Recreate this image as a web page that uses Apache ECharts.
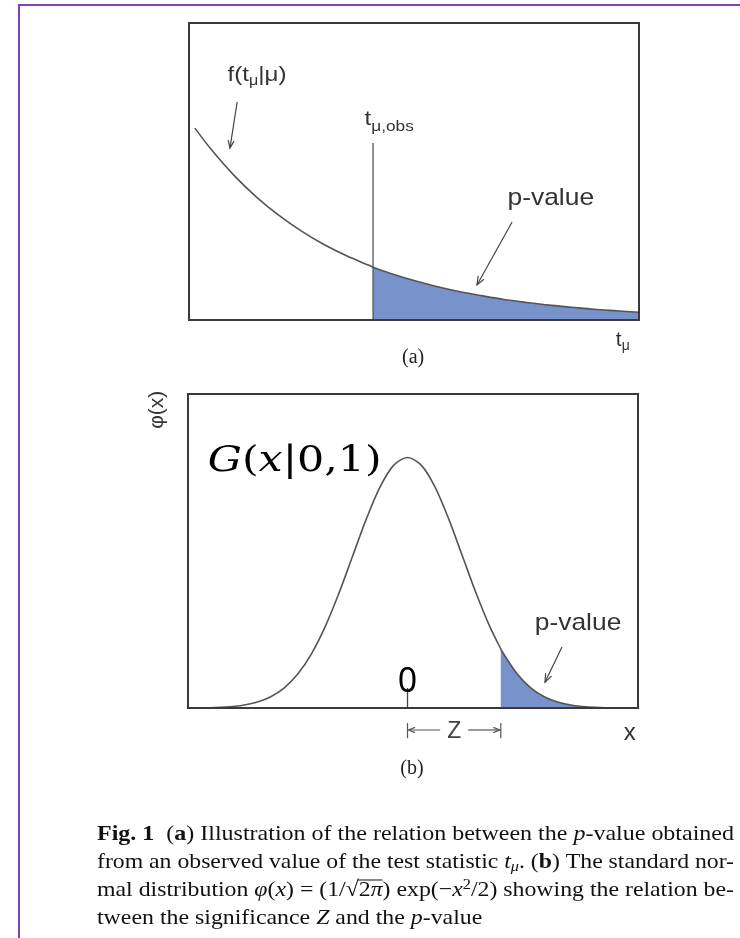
<!DOCTYPE html>
<html>
<head>
<meta charset="utf-8">
<script src="https://cdn.jsdelivr.net/npm/echarts@6/dist/echarts.min.js"></script>
<style>
  html, body { margin: 0; padding: 0; background: #ffffff; }
  #main { width: 740px; height: 938px; }
</style>
</head>
<body>
<div id="main"></div>
<script>
// ---- Panel (a): density f(t_mu | mu) of the test statistic ----
const tA = [0.13, 0.5, 1, 1.5, 2, 2.5, 3, 3.5, 4, 4.09, 4.5, 5, 5.5, 6, 6.5, 7, 7.5, 8, 8.5, 9, 9.5, 10];
const fA = [0.646, 0.573, 0.487, 0.414, 0.352, 0.299, 0.254, 0.216, 0.184, 0.178, 0.156, 0.133,
            0.113, 0.096, 0.082, 0.069, 0.059, 0.050, 0.043, 0.036, 0.031, 0.026];
const tObs = 4.09;           // observed value of the statistic
const tObsMarkerTop = 0.596; // height of the t_obs marker line
const tRange = [0, 10];
const fRange = [0, 1];

// ---- Panel (b): standard normal density phi(x) ----
const xB = [-4, -3.75, -3.5, -3.25, -3, -2.75, -2.5, -2.25, -2, -1.75, -1.5, -1.25, -1, -0.75, -0.5, -0.25,
            0, 0.25, 0.5, 0.75, 1, 1.25, 1.5, 1.7, 1.75, 2, 2.25, 2.5, 2.75, 3, 3.25, 3.5, 3.75, 4, 4.2];
const phiB = [0.0001, 0.0004, 0.0009, 0.0020, 0.0044, 0.0091, 0.0175, 0.0317, 0.0540, 0.0863, 0.1295, 0.1826,
              0.2420, 0.3011, 0.3521, 0.3867, 0.3989, 0.3867, 0.3521, 0.3011, 0.2420, 0.1826, 0.1295, 0.0940,
              0.0863, 0.0540, 0.0317, 0.0175, 0.0091, 0.0044, 0.0020, 0.0009, 0.0004, 0.0001, 0.0001];
const zSig = 1.7;            // significance Z
const xRange = [-4, 4.2];
const phiRange = [0, 0.5];

// ---- Caption ----
const captionLines = [
  [['Fig. 1', 'b'], ['  (', 'r'], ['a', 'b'], [') Illustration of the relation between the ', 'r'], ['p', 'i'], ['-value obtained', 'r']],
  [['from an observed value of the test statistic ', 'r'], ['t', 'i'], ['μ', 'isub'], ['. (', 'r'], ['b', 'b'], [') The standard nor-', 'r']],
  [['mal distribution ', 'r'], ['φ', 'i'], ['(', 'r'], ['x', 'i'], [') = (1/√', 'r'], ['2', 'r'], ['π', 'i'], [') exp(−', 'r'], ['x', 'i'], ['2', 'sup'], ['/2) showing the relation be-', 'r']],
  [['tween the significance ', 'r'], ['Z', 'i'], [' and the ', 'r'], ['p', 'i'], ['-value', 'r']]
];

const FILL = '#7892cc';
const CURVE = '#555555';
const INK = '#333333';
const SANS = '"Liberation Sans", Arial, sans-serif';
const SERIF = '"Liberation Serif", "Times New Roman", serif';
const MATH = '"DejaVu Serif", serif';

const chart = echarts.init(document.getElementById('main'), null, { renderer: 'canvas' });

const pairs = (xs, ys) => xs.map((x, i) => [x, ys[i]]);
const tail = (xs, ys, from) => pairs(xs, ys).filter(p => p[0] >= from - 1e-9);

const curveSeries = (axis, data, extra) => Object.assign({
  type: 'line', xAxisIndex: axis, yAxisIndex: axis, data: data,
  smooth: 0.3, showSymbol: false, silent: true
}, extra);

chart.setOption({
  backgroundColor: '#ffffff',
  animation: false,
  grid: [
    { left: 189, top: 23, width: 450, height: 297, show: false },
    { left: 188, top: 394, width: 450, height: 314, show: false }
  ],
  xAxis: [
    { gridIndex: 0, type: 'value', min: tRange[0], max: tRange[1], show: false },
    { gridIndex: 1, type: 'value', min: xRange[0], max: xRange[1], show: false }
  ],
  yAxis: [
    { gridIndex: 0, type: 'value', min: fRange[0], max: fRange[1], show: false },
    { gridIndex: 1, type: 'value', min: phiRange[0], max: phiRange[1], show: false }
  ],
  series: [
    // shaded p-value region (a)
    curveSeries(0, tail(tA, fA, tObs), { lineStyle: { width: 0 }, areaStyle: { color: FILL, opacity: 1 }, z: 2 }),
    // f(t|mu) curve
    curveSeries(0, pairs(tA, fA), { lineStyle: { color: CURVE, width: 1.6 }, z: 3 }),
    // t_obs marker
    curveSeries(0, [[tObs, 0], [tObs, tObsMarkerTop]], { smooth: false, lineStyle: { color: CURVE, width: 1.3 }, z: 3 }),
    // shaded p-value tail (b)
    curveSeries(1, tail(xB, phiB, zSig), { lineStyle: { width: 0 }, areaStyle: { color: FILL, opacity: 1 }, z: 2 }),
    // phi(x) curve
    curveSeries(1, pairs(xB, phiB), { lineStyle: { color: CURVE, width: 1.6 }, z: 3 }),
    // tick at x = 0
    curveSeries(1, [[0, 0], [0, 0.032]], { smooth: false, lineStyle: { color: '#444', width: 1.3 }, z: 3 })
  ]
});

// ---- annotations, anchored in data coordinates ----
const pA = (x, y) => chart.convertToPixel({ gridIndex: 0 }, [x, y]);
const pB = (x, y) => chart.convertToPixel({ gridIndex: 1 }, [x, y]);

const ctx = document.createElement('canvas').getContext('2d');
function segWidth(str, st) {
  ctx.font = (st.fontStyle || 'normal') + ' ' + (st.fontWeight || 'normal') + ' ' + st.fontSize + 'px ' + st.fontFamily;
  return ctx.measureText(str).width;
}

function arrow(p0, p1, head, color) {
  const ang = Math.atan2(p1[1] - p0[1], p1[0] - p0[0]);
  const a1 = ang + Math.PI - 0.38, a2 = ang + Math.PI + 0.38;
  return [
    { type: 'line', silent: true, z: 50, shape: { x1: p0[0], y1: p0[1], x2: p1[0], y2: p1[1] },
      style: { stroke: color, lineWidth: 1.2 } },
    { type: 'polyline', silent: true, z: 50,
      shape: { points: [[p1[0] + head * Math.cos(a1), p1[1] + head * Math.sin(a1)], p1,
                        [p1[0] + head * Math.cos(a2), p1[1] + head * Math.sin(a2)]] },
      style: { stroke: color, lineWidth: 1.2, fill: null } }
  ];
}

function text(pos, str, style, extra) {
  return Object.assign({ type: 'text', silent: true, z: 60, x: pos[0], y: pos[1],
    style: Object.assign({ text: str, fill: INK, align: 'center', verticalAlign: 'middle' }, style) }, extra || {});
}

function box(p0, p1) {
  return { type: 'rect', silent: true, z: 40,
    shape: { x: p0[0], y: p1[1], width: p1[0] - p0[0], height: p0[1] - p1[1] },
    style: { stroke: '#3a3a3a', lineWidth: 2, fill: null } };
}

const g = [];

// outer frame
g.push({ type: 'rect', silent: true, z: 70, shape: { x: 19, y: 5, width: 800, height: 1000 },
  style: { stroke: '#7d44b8', lineWidth: 2, fill: null } });

// plot frames
g.push(box(pA(tRange[0], fRange[0]), pA(tRange[1], fRange[1])));
g.push(box(pB(xRange[0], phiRange[0]), pB(xRange[1], phiRange[1])));

// (a) labels
const subRich = {
  m: { fontFamily: SANS, fontSize: 21, fill: INK },
  s: { fontFamily: SANS, fontSize: 14, fill: INK, padding: [12, 0, 0, 0] }
};
g.push(text(pA(1.51, 0.825), '{m|f(t}{s|μ}{m||μ)}', { rich: subRich }, { scaleX: 1.15 }));
g.push(...arrow(pA(1.07, 0.734), pA(0.91, 0.579), 8, '#444'));
g.push(text(pA(3.9, 0.675), '{m|t}{s|μ,obs}', {
  align: 'left',
  rich: { m: { fontFamily: SANS, fontSize: 21, fill: INK }, s: { fontFamily: SANS, fontSize: 15, fill: INK, padding: [14, 0, 0, 0] } }
}, { scaleX: 1.15 }));
g.push(text(pA(8.04, 0.411), 'p-value', { fontFamily: SANS, fontSize: 24 }, { scaleX: 1.1 }));
g.push(...arrow(pA(7.18, 0.33), pA(6.4, 0.118), 9, '#444'));
g.push(text(pA(9.64, -0.067), '{m|t}{s|μ}', { rich: subRich }));
g.push(text(pA(4.98, -0.128), '(a)', { fontFamily: SERIF, fontSize: 20, fill: '#222' }));

// (b) labels
const gStyles = {
  i: { fontFamily: MATH, fontStyle: 'italic', fontSize: 35, fill: '#000' },
  r: { fontFamily: MATH, fontSize: 35, fill: '#000' }
};
const gSegs = [['G', 'i'], ['(', 'r'], ['x', 'i'], ['|0,1)', 'r']];
const gW = gSegs.reduce((a, [s, k]) => a + segWidth(s, gStyles[k]), 0);
const gLeft = pB(-3.64, 0.392), gRight = pB(5.5, 0.392);
const gTarget = pB(-0.47, 0)[0] - gLeft[0];
g.push(text(gLeft, gSegs.map(([s, k]) => '{' + k + '|' + s + '}').join(''), { align: 'left', rich: gStyles },
  { scaleX: gTarget / gW }));
g.push(text(pB(0, 0.041), '0', { fontFamily: '"Noto Sans", sans-serif', fontSize: 34, fill: '#000' }));
g.push(text(pB(3.107, 0.135), 'p-value', { fontFamily: SANS, fontSize: 24 }, { scaleX: 1.1 }));
g.push(...arrow(pB(2.815, 0.097), pB(2.505, 0.041), 9, '#444'));
g.push(text(pB(4.05, -0.040), 'x', { fontFamily: SANS, fontSize: 24 }));
g.push(text(pB(0.08, -0.096), '(b)', { fontFamily: SERIF, fontSize: 20, fill: '#222' }));
g.push(text(pB(-4.56, 0.475), 'φ(x)', { fontFamily: SANS, fontSize: 21 }, { rotation: Math.PI / 2 }));

// Z bracket between 0 and Z
const zy = -0.035;
const zb0 = pB(0, -0.024), zb1 = pB(0, -0.048), zc0 = pB(zSig, -0.024), zc1 = pB(zSig, -0.048);
g.push({ type: 'line', silent: true, z: 50, shape: { x1: zb0[0], y1: zb0[1], x2: zb1[0], y2: zb1[1] }, style: { stroke: '#555', lineWidth: 1.2 } });
g.push({ type: 'line', silent: true, z: 50, shape: { x1: zc0[0], y1: zc0[1], x2: zc1[0], y2: zc1[1] }, style: { stroke: '#555', lineWidth: 1.2 } });
const zMid = pB(zSig / 2, zy);
g.push(...arrow([zMid[0] - 14, zMid[1]], [pB(0, zy)[0] + 1, zMid[1]], 7, '#555'));
g.push(...arrow([zMid[0] + 14, zMid[1]], [pB(zSig, zy)[0] - 1, zMid[1]], 7, '#555'));
g.push(text([zMid[0], zMid[1] + 2], 'Z', { fontFamily: SANS, fontSize: 23, fill: '#444' }));

// caption, justified between two margins
const capLeft = 97, capRight = 734, capSize = 22;
const capY = [834, 862, 890, 918];
const capStyles = {
  r: { fontFamily: SERIF, fontSize: capSize, fill: '#111' },
  b: { fontFamily: SERIF, fontSize: capSize, fontWeight: 'bold', fill: '#111' },
  i: { fontFamily: SERIF, fontSize: capSize, fontStyle: 'italic', fill: '#111' },
  isub: { fontFamily: SERIF, fontSize: 15, fontStyle: 'italic', fill: '#111', padding: [10, 0, 0, 0] },
  sup: { fontFamily: SERIF, fontSize: 15, fill: '#111', padding: [0, 0, 10, 0] }
};
const capScales = captionLines.map(line =>
  (capRight - capLeft) / line.reduce((acc, [s, key]) => acc + segWidth(s, capStyles[key]), 0));
const fullScales = capScales.slice(0, -1);
const lastScale = fullScales.reduce((a, b) => a + b, 0) / fullScales.length;
captionLines.forEach((line, k) => {
  const rich = line.map(([s, key]) => '{' + key + '|' + s + '}').join('');
  const sx = k < captionLines.length - 1 ? capScales[k] : lastScale;
  g.push({ type: 'text', silent: true, z: 60, x: capLeft, y: capY[k], scaleX: sx,
    style: { text: rich, rich: capStyles, align: 'left', verticalAlign: 'middle' } });
  // radical vinculum over "2π"
  const rIdx = line.findIndex(([s]) => s.endsWith('√'));
  if (rIdx >= 0) {
    let x0 = 0;
    for (let j = 0; j <= rIdx; j++) x0 += segWidth(line[j][0], capStyles[line[j][1]]);
    const w = segWidth(line[rIdx + 1][0], capStyles[line[rIdx + 1][1]]) + segWidth(line[rIdx + 2][0], capStyles[line[rIdx + 2][1]]);
    g.push({ type: 'line', silent: true, z: 60,
      shape: { x1: capLeft + x0 * sx - 1, y1: capY[k] - 10, x2: capLeft + (x0 + w) * sx, y2: capY[k] - 10 },
      style: { stroke: '#111', lineWidth: 1 } });
  }
});

chart.setOption({ graphic: g });
</script>
</body>
</html>
